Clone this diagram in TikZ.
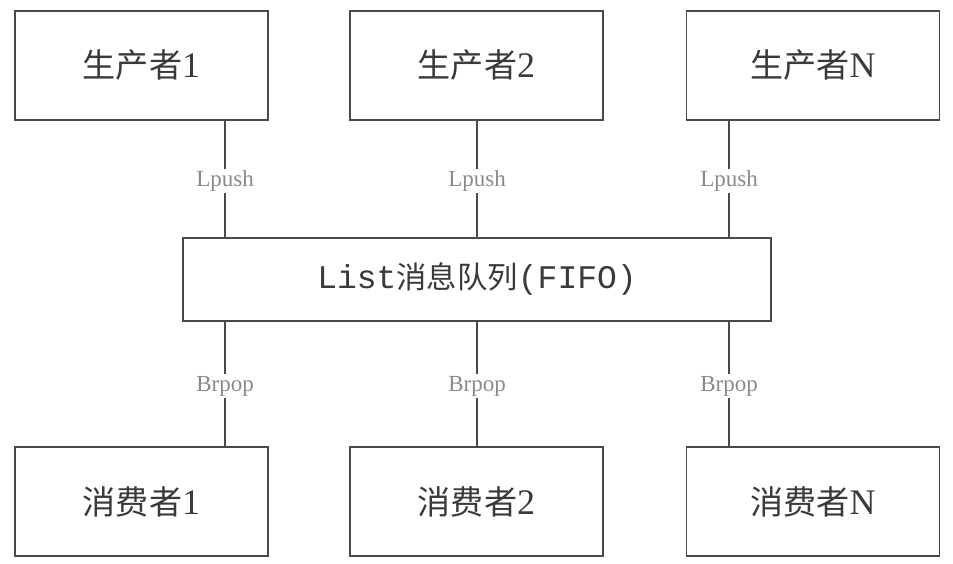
\documentclass[tikz,border=0pt]{standalone}
\usepackage{fontspec}
\setmainfont{Liberation Serif}
\newfontfamily\cjk{Noto Sans CJK SC}[Scale=0.92]
\newfontfamily\monofont{Liberation Mono}
\definecolor{boxline}{HTML}{4A4A4A}
\definecolor{boxtext}{HTML}{3A3A3A}
\definecolor{lbltext}{HTML}{8A8A8A}
\begin{document}
\begin{tikzpicture}[x=1pt,y=-1pt,
  boxnode/.style={draw=boxline,line width=1.4pt,fill=white,minimum width=253pt,minimum height=109pt,inner sep=0pt,text=boxtext,font=\fontsize{36}{40}\selectfont},
  queuenode/.style={draw=boxline,line width=1.4pt,fill=white,minimum width=588pt,minimum height=83pt,inner sep=0pt,text=boxtext,font=\fontsize{33}{38}\selectfont},
  link/.style={draw=boxline,line width=1.3pt},
  lbl/.style={fill=white,text=lbltext,inner sep=2pt,yshift=-2pt,font=\fontsize{23}{26}\selectfont}]
\useasboundingbox (0,0) rectangle (953,563);
\node[boxnode] (p1) at (141.5,65.5) {{\cjk 生产者}1};
\node[boxnode] (p2) at (476.5,65.5) {{\cjk 生产者}2};
\node[boxnode] (pN) at (813,65.5) {{\cjk 生产者}N};
\node[queuenode] (q) at (477,279.5) {{\monofont List}{\cjk 消息队列}{\monofont (FIFO)}};
\node[boxnode] (c1) at (141.5,501.5) {{\cjk 消费者}1};
\node[boxnode] (c2) at (476.5,501.5) {{\cjk 消费者}2};
\node[boxnode] (cN) at (813,501.5) {{\cjk 消费者}N};
\coordinate (x1) at (225,0);
\coordinate (x2) at (477,0);
\coordinate (x3) at (729,0);
\draw[link] (x1 |- p1.south) -- node[lbl]{Lpush} (x1 |- q.north);
\draw[link] (x2 |- p2.south) -- node[lbl]{Lpush} (x2 |- q.north);
\draw[link] (x3 |- pN.south) -- node[lbl]{Lpush} (x3 |- q.north);
\draw[link] (x1 |- q.south) -- node[lbl]{Brpop} (x1 |- c1.north);
\draw[link] (x2 |- q.south) -- node[lbl]{Brpop} (x2 |- c2.north);
\draw[link] (x3 |- q.south) -- node[lbl]{Brpop} (x3 |- cN.north);
\end{tikzpicture}
\end{document}
